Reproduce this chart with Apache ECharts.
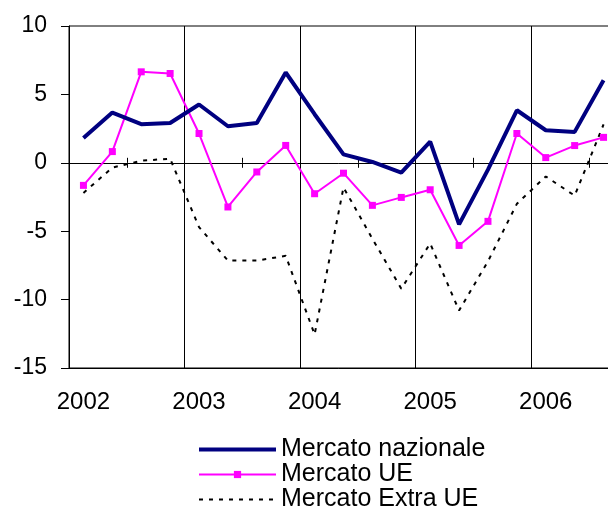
<!DOCTYPE html>
<html>
<head>
<meta charset="utf-8">
<script src="https://cdn.jsdelivr.net/npm/echarts@6/dist/echarts.min.js"></script>
<style>
  html, body { margin: 0; padding: 0; background: #fff; }
  #chart { width: 608px; height: 506px; }
</style>
</head>
<body>
<div id="chart"></div>
<script>
// Quarterly periods, 2002 Q1 .. 2006 Q3
const quarters = [
  '2002 T1', '2002 T2', '2002 T3', '2002 T4',
  '2003 T1', '2003 T2', '2003 T3', '2003 T4',
  '2004 T1', '2004 T2', '2004 T3', '2004 T4',
  '2005 T1', '2005 T2', '2005 T3', '2005 T4',
  '2006 T1', '2006 T2', '2006 T3'
];

const nazionale = [1.82, 3.67, 2.82, 2.91, 4.26, 2.67, 2.91, 6.6, 3.55, 0.62,
                   0.06, -0.72, 1.55, -4.5, -0.5, 3.84, 2.38, 2.26, 6.04];
const ue = [-1.65, 0.82, 6.65, 6.53, 2.14, -3.23, -0.67, 1.27, -2.26, -0.76,
            -3.11, -2.53, -1.97, -6.04, -4.28, 2.14, 0.38, 1.26, 1.86];
const extraUe = [-2.2, -0.35, 0.15, 0.3, -4.7, -7.15, -7.15, -6.8, -12.55, -1.8,
                 -5.55, -9.2, -5.9, -10.8, -7.2, -3.0, -1.0, -2.4, 2.8];

const yMin = -15, yMax = 10, yStep = 5;

const FONT = "'Liberation Sans', Arial, sans-serif";

const chart = echarts.init(document.getElementById('chart'), null, { renderer: 'canvas' });

// Extra category axes sitting on the zero line: one draws the line and the
// upward half of each tick, the other the downward half.
const zeroLineAxis = (inside) => ({
  type: 'category',
  data: quarters,
  position: 'bottom',
  boundaryGap: true,
  axisLine: { show: inside, onZero: true, onZeroAxisIndex: 0, lineStyle: { color: '#000', width: 1 } },
  axisTick: { show: true, interval: 1, inside: inside, length: 5, lineStyle: { color: '#000', width: 1 } },
  axisLabel: { show: false },
  splitLine: { show: false }
});

const noSymbol = { color: 'rgba(0,0,0,0)', borderWidth: 0, opacity: 0 };

chart.setOption({
  animation: false,
  backgroundColor: '#fff',
  textStyle: { fontFamily: FONT },
  grid: {
    left: 69, top: 26, width: 549, height: 342,
    show: true, borderColor: '#000', borderWidth: 1,
    outerBoundsMode: 'none'
  },
  xAxis: [
    {
      type: 'category',
      data: quarters,
      position: 'bottom',
      boundaryGap: true,
      axisLine: { show: true, onZero: false, lineStyle: { color: '#000', width: 1 } },
      axisTick: { show: false },
      axisLabel: {
        interval: 3,
        formatter: (v) => v.slice(0, 4),
        fontSize: 24, color: '#000', margin: 22, fontFamily: FONT
      },
      splitLine: { show: true, interval: 3, lineStyle: { color: '#000', width: 1 } }
    },
    zeroLineAxis(true),
    zeroLineAxis(false)
  ],
  yAxis: {
    type: 'value',
    min: yMin, max: yMax, interval: yStep,
    axisLine: { show: true, lineStyle: { color: '#000', width: 1 } },
    axisTick: { show: true, inside: false, length: 8, lineStyle: { color: '#000', width: 1 } },
    axisLabel: { fontSize: 23, color: '#000', margin: 22, fontFamily: FONT },
    splitLine: { show: false }
  },
  legend: {
    orient: 'vertical',
    left: 192, top: 432, height: 120,
    itemWidth: 77, itemHeight: 9, itemGap: 0,
    textStyle: { fontSize: 25, lineHeight: 24.5, color: '#000', fontFamily: FONT },
    data: [
      { name: 'Mercato nazionale', itemStyle: noSymbol, lineStyle: { width: 4 } },
      { name: 'Mercato UE' },
      { name: 'Mercato Extra UE', itemStyle: noSymbol }
    ]
  },
  series: [
    {
      name: 'Mercato nazionale',
      type: 'line',
      data: nazionale,
      symbol: 'none',
      color: '#000080',
      lineStyle: { color: '#000080', width: 4 },
      z: 4
    },
    {
      name: 'Mercato UE',
      type: 'line',
      data: ue,
      symbol: 'rect',
      symbolSize: 7,
      color: '#ff00ff',
      itemStyle: { color: '#ff00ff' },
      lineStyle: { color: '#ff00ff', width: 2 },
      z: 3
    },
    {
      name: 'Mercato Extra UE',
      type: 'line',
      data: extraUe,
      symbol: 'none',
      color: '#000',
      lineStyle: { color: '#000', width: 2, type: [4, 6] },
      z: 2
    }
  ]
});
</script>
</body>
</html>
